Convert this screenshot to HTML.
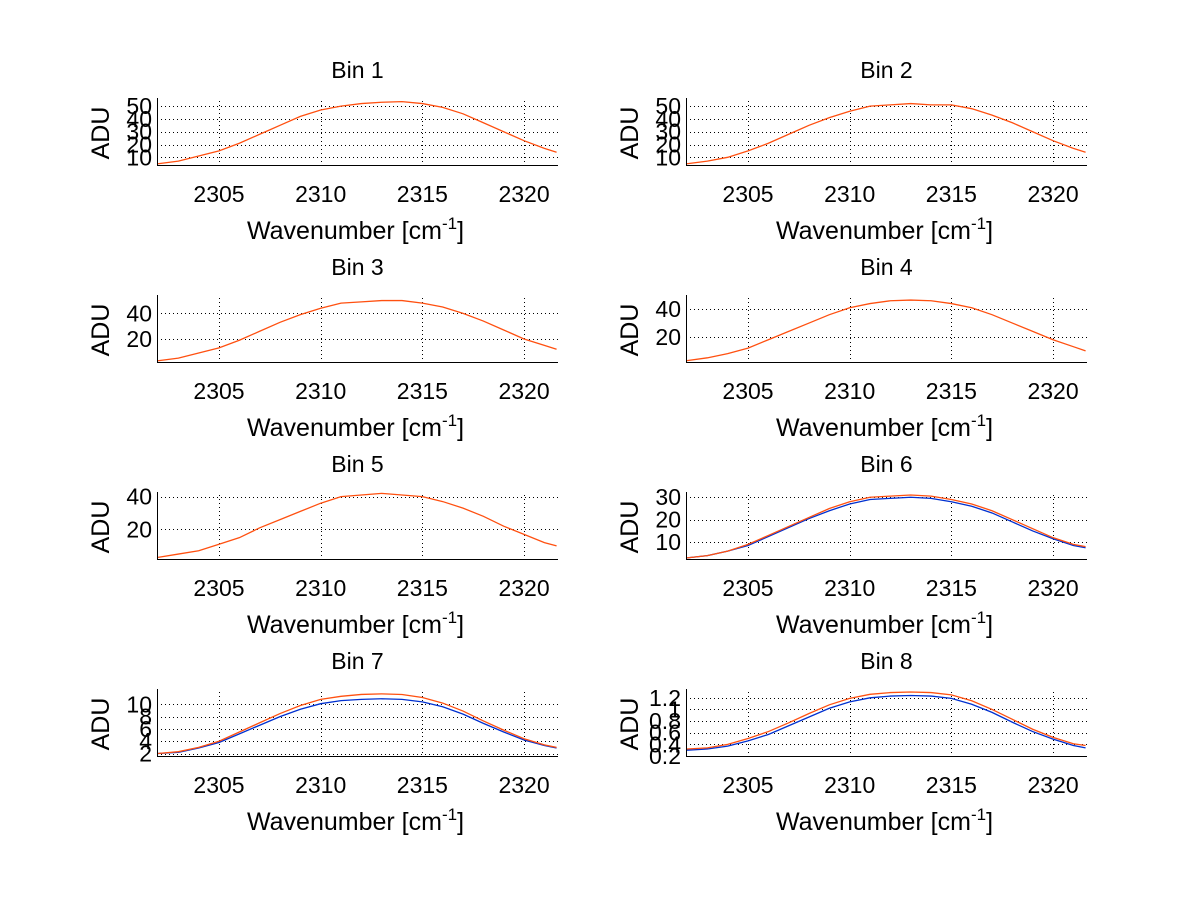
<!DOCTYPE html>
<html><head><meta charset="utf-8"><style>
body{margin:0;background:#fff;}
svg{display:block;font-family:"Liberation Sans",sans-serif;}
</style></head><body>
<svg id="fig" width="1200" height="901" viewBox="0 0 1200 901"></svg>
<script>
const xs = [2302,2303,2304,2305,2306,2307,2308,2309,2310,2311,2312,2313,2314,2315,2316,2317,2318,2319,2320,2321,2321.6];
const xTicks = [2305,2310,2315,2320];
const binTitles = ["Bin 1","Bin 2","Bin 3","Bin 4","Bin 5","Bin 6","Bin 7","Bin 8"];
const yMins = [4,4,2,2,2,2.5,1.6,0.2];
const yMaxs = [54,54,52,48,41,31,12,1.3];
const yTicks1 = [10,20,30,40,50];
const yTicks2 = [10,20,30,40,50];
const yTicks3 = [20,40];
const yTicks4 = [20,40];
const yTicks5 = [20,40];
const yTicks6 = [10,20,30];
const yTicks7 = [2,4,6,8,10];
const yTicks8 = [0.2,0.4,0.6,0.8,1,1.2];
const orange1 = [5,7,11,15,21,28,35,42,47,50,52,53,53.5,52,49,44,37,30,23,17,14];
const orange2 = [5,7,10,15,21,28,35,41,46,50,51,52,51,51,48,43,37,30,23,17,14];
const orange3 = [3,5,9,13,19,26,33,39,44,48,49,50,50,48,45,40,34,27,20,15,12];
const orange4 = [3,5,8,12,18,24,30,36,41,44,46,46.5,46,44,41,36,30,24,18,13,10];
const orange5 = [3,5,7,11,15,21,26,31,36,40,41,42,41,40,37,33,28,22,17,12,10];
const orange6 = [3,4,6,9,13,17,21,25,28,30,30.5,31,30.5,29,27,24,20,16,12,9,8];
const blue6   = [3,4,6,8.5,12.5,16.5,20.5,24,27,29,29.5,30,29.5,28,26,23,19,15,11.5,8.5,7.5];
const orange7 = [2,2.3,3,4,5.5,7,8.5,9.8,10.8,11.3,11.6,11.7,11.6,11.1,10.2,8.9,7.3,5.8,4.4,3.4,3];
const blue7   = [2,2.2,2.9,3.8,5.2,6.6,8,9.2,10.1,10.6,10.8,10.9,10.8,10.4,9.6,8.4,6.9,5.5,4.2,3.3,2.9];
const orange8 = [0.32,0.34,0.4,0.5,0.62,0.77,0.93,1.08,1.19,1.26,1.29,1.3,1.29,1.25,1.15,1.0,0.83,0.66,0.52,0.41,0.38];
const blue8   = [0.3,0.32,0.37,0.46,0.57,0.72,0.87,1.02,1.13,1.2,1.23,1.24,1.23,1.19,1.09,0.95,0.78,0.62,0.49,0.38,0.34];
const yTicksAll = [yTicks1,yTicks2,yTicks3,yTicks4,yTicks5,yTicks6,yTicks7,yTicks8];
const oranges = [orange1,orange2,orange3,orange4,orange5,orange6,orange7,orange8];
const blues = [null,null,null,null,null,blue6,blue7,blue8];

const NS="http://www.w3.org/2000/svg";
const svg=document.getElementById('fig');
function mk(tag,attrs,parent){const e=document.createElementNS(NS,tag);for(const k in attrs)e.setAttribute(k,attrs[k]);(parent||svg).appendChild(e);return e;}
const X0=2301.95,X1=2321.67;
for(let i=0;i<8;i++){
  const col=i%2,row=Math.floor(i/2);
  const L=col?686:157,R=col?1087:558,T=101+row*197,B=T+64;
  const g=mk('g',{});
  
  
  const sx=v=>L+(v-X0)/(X1-X0)*(R-L);
  const sy=v=>B-(v-yMins[i])/(yMaxs[i]-yMins[i])*(B-T);
  xTicks.forEach(t=>{
    const gl=mk('line',{x1:Math.round(sx(t))+0.5,x2:Math.round(sx(t))+0.5,y1:T,y2:B,stroke:'#000','stroke-width':1,'stroke-dasharray':'1,3'},g);
    
    
    const tl=mk('text',{x:sx(t),y:B+37,'text-anchor':'middle','font-size':23},g);tl.textContent=t;
    
    
  });
  yTicksAll[i].forEach(t=>{
    const gl=mk('line',{x1:L,x2:R,y1:Math.round(sy(t))+0.5,y2:Math.round(sy(t))+0.5,stroke:'#000','stroke-width':1,'stroke-dasharray':'1,3'},g);
    
    
    const tl=mk('text',{x:L-5,y:sy(t)+8,'text-anchor':'end','font-size':23},g);tl.textContent=t;
    
    
  });
  const series=[[blues[i],'#0030d0'],[oranges[i],'#ff5010']];
  series.forEach(([d,c])=>{
    if(!d)return;
    const p=mk('polyline',{points:d.map((v,j)=>sx(xs[j])+','+sy(v)).join(' '),fill:'none',stroke:c,'stroke-width':1.3},g);
    
    
  });
  const ax=mk('path',{d:`M${L+0.5},${T-3}V${B+0.5}H${R}`,fill:'none',stroke:'#000','stroke-width':1,'shape-rendering':'crispEdges'},g);
  
  
  const ti=mk('text',{x:(L+R)/2,y:T-23,'text-anchor':'middle','font-size':23},g);ti.textContent=binTitles[i];
  
  
  const yl=mk('text',{x:0,y:0,'text-anchor':'middle','font-size':25,transform:`translate(${L-48},${(T+B)/2}) rotate(-90)`},g);yl.textContent='ADU';
  
  
  const xl=mk('text',{x:(L+R)/2-2,y:B+74,'text-anchor':'middle','font-size':25},g);
  
  
  xl.appendChild(document.createTextNode('Wavenumber [cm'));
  const sup=mk('tspan',{dy:-10,'font-size':17},xl);sup.textContent='-1';
  const tail=mk('tspan',{dy:10},xl);tail.textContent=']';
}
</script>
</body></html>
